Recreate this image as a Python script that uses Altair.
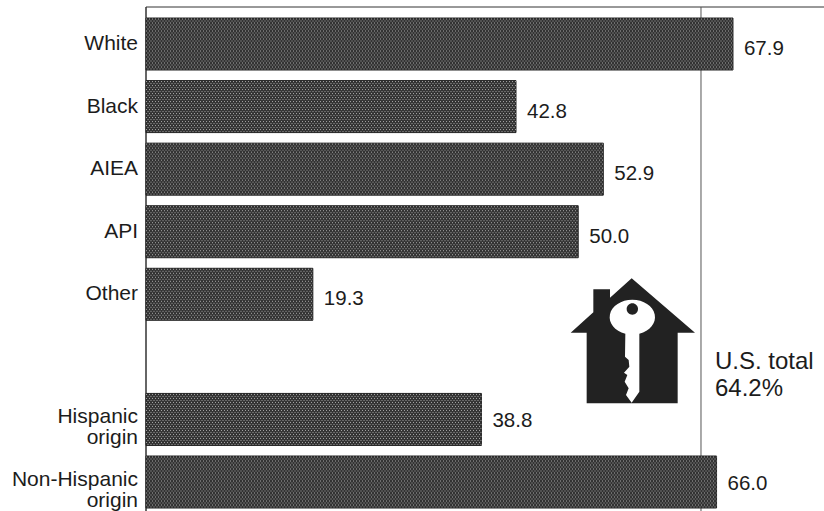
import altair as alt
import pandas as pd

# Home ownership rate by race and origin, percent
categories = ["White", "Black", "AIEA", "API", "Other", "", "Hispanic origin", "Non-Hispanic origin"]
label_lines = [["White"], ["Black"], ["AIEA"], ["API"], ["Other"], None,
               ["Hispanic", "origin"], ["Non-Hispanic", "origin"]]
values = [67.9, 42.8, 52.9, 50.0, 19.3, None, 38.8, 66.0]
us_total = 64.2
us_total_label = ["U.S. total", "64.2%"]

# Outlines of the house-and-key emblem
HOUSE = "M245 55L435 218L383 218L383 430L110 430L110 218L62 218L130 157L130 88L180 88L180 113Z"
KEY = ("M226 221A68 52 0 1 1 268 221L268 395L245 428L228 405L236 385L224 365L232 345"
       "L222 338L238 320L236 300L225 290Z")
KEY_HOLE = "M230 147A17 17 0 1 1 264 147A17 17 0 1 1 230 147Z"

FONT = "Liberation Sans"
INK = "#1c1c1c"
BAR_FILL = "#333333"
HALFTONE_ROWS = [str(i) for i in range(26)]

bars = pd.DataFrame(
    {"category": c, "value": v, "zero": 0, "lines": l, "pct": f"{v:.1f}"}
    for c, v, l in zip(categories, values, label_lines) if v is not None
)
single = bars[bars["lines"].map(len) == 1]
double = bars[bars["lines"].map(len) == 2]
halftone = pd.DataFrame(
    {"category": c, "zero": 0, "value": v, "row": r, "odd": int(r) % 2}
    for c, v in zip(categories, values) if v is not None
    for r in HALFTONE_ROWS
)

y_enc = alt.Y(
    "category:N",
    axis=None,
    sort=categories,
    scale=alt.Scale(domain=categories, paddingInner=0.169, paddingOuter=0.112, align=0.786),
)
x_scale = alt.Scale(domain=[0, 78.43])
x_enc = alt.X("zero:Q", axis=None, scale=x_scale)

frame_top = alt.Chart(pd.DataFrame({"a": [0], "b": [78.43]})).mark_rule(
    color="#333333", strokeWidth=1
).encode(x=alt.X("a:Q", axis=None, scale=x_scale), x2="b:Q", y=alt.value(0))
frame_left = alt.Chart(pd.DataFrame({"a": [0]})).mark_rule(
    color="#333333", strokeWidth=1.5
).encode(x=alt.X("a:Q", axis=None, scale=x_scale))
total_rule = alt.Chart(pd.DataFrame({"a": [us_total]})).mark_rule(
    color="#555555", strokeWidth=1
).encode(x=alt.X("a:Q", axis=None, scale=x_scale))

bar_layer = alt.Chart(bars).mark_bar(fill=BAR_FILL, stroke="#222222", strokeWidth=1).encode(
    x=x_enc, x2="value:Q", y=y_enc
)


def halftone_rows(odd, dash_offset):
    # Rows of dashes shifted against each other give the screened look of the bars
    return alt.Chart(halftone[halftone["odd"] == odd]).mark_rule(
        color="#c8c8c8", strokeWidth=1, strokeDash=[1, 2], strokeDashOffset=dash_offset, opacity=0.8
    ).encode(
        x=x_enc,
        x2="value:Q",
        y=y_enc,
        yOffset=alt.YOffset("row:N", sort=HALFTONE_ROWS,
                            scale=alt.Scale(domain=HALFTONE_ROWS, paddingInner=0, paddingOuter=0)),
    )


def value_labels(data, shift):
    return alt.Chart(data).mark_text(
        align="left", baseline="middle", dx=11, dy=shift, font=FONT, fontSize=20.5, color=INK
    ).encode(x=alt.X("value:Q", axis=None, scale=x_scale), y=y_enc, text="pct:N")


def category_labels(data, shift):
    return alt.Chart(data).mark_text(
        align="right", baseline="middle", dy=shift, font=FONT, fontSize=21,
        color=INK, lineHeight=21
    ).encode(x=alt.value(-8), y=y_enc, text="lines:N")


def emblem(path, colour):
    # Symbol paths scale by sqrt(size) / 2, so this draws them at one third of their units
    return alt.Chart(pd.DataFrame({"a": [0]})).mark_point(
        shape=path, size=4 / 9, filled=True, fill=colour, stroke=None, opacity=1
    ).encode(x=alt.value(404), y=alt.value(253))


total_text = alt.Chart(pd.DataFrame({"a": [us_total], "t": [us_total_label]})).mark_text(
    align="left", baseline="middle", dx=14, font=FONT, fontSize=24, lineHeight=27, color=INK
).encode(x=alt.X("a:Q", axis=None, scale=x_scale), y=alt.value(355), text="t:N")

chart = alt.layer(
    frame_top, frame_left, total_rule, bar_layer,
    halftone_rows(0, 0), halftone_rows(1, 1.5),
    value_labels(bars[bars["category"].isin(categories[:5])], 5),
    value_labels(bars[bars["category"].isin(categories[6:])], 2),
    category_labels(single, 0),
    category_labels(double, -2),
    emblem(HOUSE, "#222222"), emblem(KEY, "#ffffff"), emblem(KEY_HOLE, "#222222"),
    total_text,
).properties(
    width=678,
    height=504,
    autosize=alt.AutoSizeParams(type="none"),
    padding={"left": 146, "top": 7, "right": 0, "bottom": 0},
    background="#ffffff",
).configure_view(stroke=None)

chart.save("out.html", embed_options={"renderer": "svg", "actions": False})
